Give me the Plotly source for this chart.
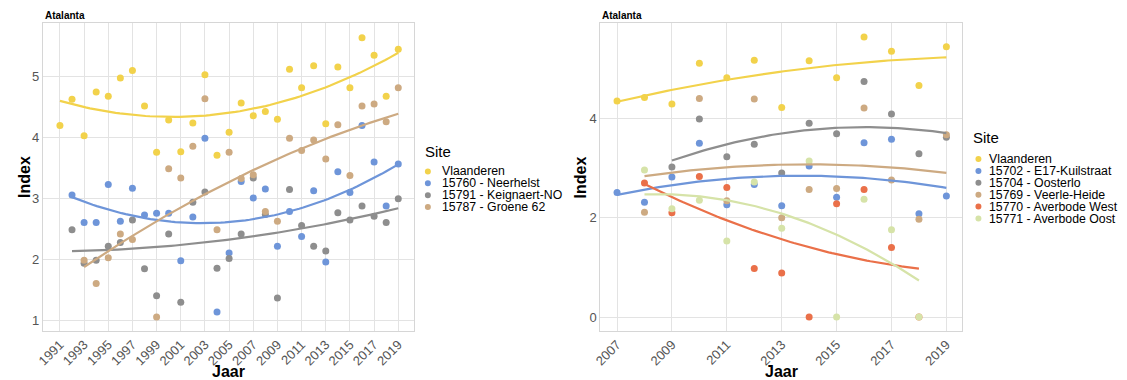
import numpy as np
import plotly.graph_objects as go

W, H = 1127, 380
FONT = "Liberation Sans, Arial, sans-serif"

# ---- left panel: 1991-2019 --------------------------------------------------
years_a = list(range(1991, 2020))
vlaanderen_a = [4.19, 4.62, 4.02, 4.74, 4.67, 4.97, 5.09, 4.51, 3.75, 4.28,
                3.76, 4.23, 5.02, 3.70, 4.08, 4.56, 4.35, 4.42, 4.29, 5.11,
                4.81, 5.17, 4.22, 5.15, 4.81, 5.63, 5.34, 4.67, 5.44]
neerhelst = [None, 3.05, 2.60, 2.60, 3.22, 2.62, 3.16, 2.72, 2.75, 2.75,
             1.97, 2.69, 3.98, 1.13, 2.10, 3.27, 3.00, 3.15, 2.21, 2.78,
             2.37, 3.12, 1.95, 3.43, 3.09, 4.19, 3.59, 2.87, 3.56]
keignaert = [None, 2.48, 1.93, 1.98, 2.21, 2.27, 2.64, 1.84, 1.40, 2.41,
             1.29, 2.93, 3.10, 1.85, 2.01, 2.41, 3.33, 2.73, 1.36, 3.14,
             2.55, 2.21, 2.13, 2.76, 2.64, 2.87, 2.70, 2.60, 2.99]
groene62 = [None, None, 1.98, 1.60, 2.02, 2.41, 2.32, None, 1.05, 3.48,
            3.33, 3.85, 4.63, 2.48, 3.75, 3.32, 3.38, 2.78, 2.62, 3.98,
            3.78, 3.95, 3.64, 4.20, 3.37, 4.51, 4.54, 4.25, 4.81]
sites_a = ["Vlaanderen", "15760 - Neerhelst", "15791 - Keignaert-NO", "15787 - Groene 62"]
values_a = [vlaanderen_a, neerhelst, keignaert, groene62]

# ---- right panel: 2007-2019 -------------------------------------------------
years_b = list(range(2007, 2020))
vlaanderen_b = [4.35, 4.42, 4.29, 5.11, 4.82, 5.17, 4.22, 5.16, 4.82, 5.64, 5.35, 4.66, 5.44]
kuilstraat = [2.51, 2.31, 2.82, 3.50, 2.26, 2.67, 2.24, 3.04, 2.41, 3.51, 3.58, 2.08, 2.44]
oosterlo = [None, None, 3.02, 3.99, 3.23, 3.48, 2.90, 3.90, 3.69, 4.74, 4.09, 3.29, 3.62]
veerle = [None, 2.11, None, 4.40, 2.34, 4.39, 2.00, 2.57, 2.59, 4.21, 2.76, 1.97, 3.67]
averbode_w = [None, 2.70, 2.10, 2.83, 2.61, 0.98, 0.89, 0.00, 2.28, 2.57, 1.40, 0.00, None]
averbode_o = [None, 2.96, 2.18, 2.35, 1.53, 2.72, 1.79, 3.14, 0.00, 2.37, 1.76, 0.00, None]
sites_b = ["Vlaanderen", "15702 - E17-Kuilstraat", "15704 - Oosterlo",
           "15769 - Veerle-Heide", "15770 - Averbode West", "15771 - Averbode Oost"]
values_b = [vlaanderen_b, kuilstraat, oosterlo, veerle, averbode_w, averbode_o]

x_ticks_a = list(range(1991, 2020, 2))
x_ticks_b = list(range(2007, 2020, 2))
y_ticks_a = [1, 2, 3, 4, 5]
y_ticks_b = [0, 2, 4]

COLORS = {
    "Vlaanderen": "#F2D24B",
    "15760 - Neerhelst": "#6E95D9",
    "15791 - Keignaert-NO": "#8E8E8E",
    "15787 - Groene 62": "#CDAA82",
    "15702 - E17-Kuilstraat": "#6E95D9",
    "15704 - Oosterlo": "#8E8E8E",
    "15769 - Veerle-Heide": "#CDAA82",
    "15770 - Averbode West": "#EA7049",
    "15771 - Averbode Oost": "#D6E3A8",
}


def quad_trend(x, y, n_out=80):
    """Least-squares quadratic trend evaluated over the observed year range."""
    x = np.asarray(x, float)
    y = np.asarray(y, float)
    coef = np.polyfit(x - x.mean(), y, 2)
    xs = np.linspace(x.min(), x.max(), n_out)
    return xs, np.polyval(coef, xs - x.mean())


fig = go.Figure()


def observed(years, vals):
    xy = [(yr, v) for yr, v in zip(years, vals) if v is not None]
    return [p[0] for p in xy], [p[1] for p in xy]


def add_panel(years, names, series, xa, ya):
    for name, vals in zip(names, series):
        xs, ys = observed(years, vals)
        fig.add_trace(go.Scatter(x=xs, y=ys, mode="markers", name=name,
                                 marker=dict(color=COLORS[name], size=7, line=dict(width=0)),
                                 xaxis=xa, yaxis=ya, showlegend=False))
    for name, vals in zip(names, series):
        sx, sy = quad_trend(*observed(years, vals))
        fig.add_trace(go.Scatter(x=sx, y=sy, mode="lines", name=name,
                                 line=dict(color=COLORS[name], width=2.2),
                                 xaxis=xa, yaxis=ya, showlegend=False,
                                 hoverinfo="skip"))


add_panel(years_a, sites_a, values_a, "x", "y")
add_panel(years_b, sites_b, values_b, "x2", "y2")


def px_x(p):
    return p / W


def px_y(p):
    return 1 - p / H


axis_common = dict(showgrid=True, gridcolor="#E3E3E3", gridwidth=1,
                   zeroline=False, showline=True, linecolor="#D6D6D6",
                   linewidth=1, mirror=True, ticks="",
                   tickfont=dict(family=FONT, size=13, color="#555555"))

top, bottom = 23, 331

fig.update_layout(
    width=W, height=H, margin=dict(l=0, r=0, t=0, b=0),
    paper_bgcolor="white", plot_bgcolor="white",
    font=dict(family=FONT),
    xaxis=dict(domain=[px_x(36), px_x(410)], range=[1989.58, 2020.34],
               tickvals=x_ticks_a, tickangle=-45, anchor="y", **axis_common),
    yaxis=dict(domain=[px_y(bottom), px_y(top)], range=[0.82, 5.87],
               tickvals=y_ticks_a, anchor="x", **axis_common),
    xaxis2=dict(domain=[px_x(597), px_x(961)], range=[2006.39, 2019.57],
                tickvals=x_ticks_b, tickangle=-45, anchor="y2", **axis_common),
    yaxis2=dict(domain=[px_y(bottom), px_y(top)], range=[-0.28, 5.92],
                tickvals=y_ticks_b, anchor="x2", **axis_common),
)

ann = []
shapes = []
for left, xc, yx in [(36, 223, 17), (597, 779, 577)]:
    ann.append(dict(text="Atalanta", x=px_x(left), y=px_y(15), xref="paper", yref="paper",
                    xanchor="left", yanchor="middle", showarrow=False,
                    font=dict(family=FONT, size=10, color="black", weight="bold")))
    ann.append(dict(text="Jaar", x=px_x(xc), y=px_y(371), xref="paper", yref="paper",
                    xanchor="center", yanchor="middle", showarrow=False,
                    font=dict(family=FONT, size=16, color="black", weight="bold")))
    ann.append(dict(text="Index", x=px_x(yx), y=px_y((top + bottom) / 2), xref="paper",
                    yref="paper", xanchor="center", yanchor="middle", showarrow=False,
                    textangle=-90,
                    font=dict(family=FONT, size=16, color="black", weight="bold")))


def add_legend(names, title_x, title_y, key_x, text_x, first_y, step):
    ann.append(dict(text="Site", x=px_x(title_x), y=px_y(title_y), xref="paper",
                    yref="paper", xanchor="left", yanchor="middle", showarrow=False,
                    font=dict(family=FONT, size=15, color="black")))
    # one multi-line block: the base font sets the tight line pitch (1.3 em),
    # the inner spans carry the visible label size
    base = step / 1.3
    body = "<br>".join(f"<span style='font-size:12.3px'>{n}</span>" for n in names)
    mid = first_y + (len(names) - 1) * step / 2
    ann.append(dict(text=body, x=px_x(text_x), y=px_y(mid), xref="paper",
                    yref="paper", xanchor="left", yanchor="middle", align="left",
                    showarrow=False,
                    font=dict(family=FONT, size=base, color="black")))
    for i, name in enumerate(names):
        yc = first_y + i * step
        shapes.append(dict(type="circle", xref="paper", yref="paper",
                           xsizemode="pixel", ysizemode="pixel",
                           xanchor=px_x(key_x), yanchor=px_y(yc),
                           x0=-3, x1=3, y0=-3, y1=3,
                           fillcolor=COLORS[name], line=dict(width=0)))


add_legend(sites_a, 419, 151, 423.5, 436, 171.4, 11.9)
add_legend(sites_b, 970, 137, 977.5, 986.5, 159, 11.9)

fig.update_layout(annotations=ann, shapes=shapes)
fig.write_html("out.html")
